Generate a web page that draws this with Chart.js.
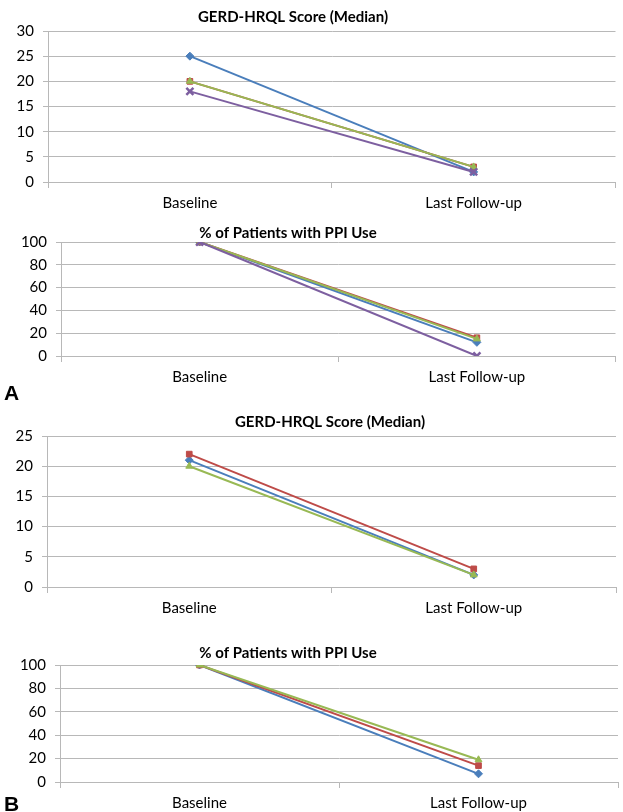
<!DOCTYPE html>
<html>
<head>
<meta charset="utf-8">
<script src="https://cdn.jsdelivr.net/npm/chart.js@4.4.0/dist/chart.umd.min.js"></script>
<style>
  body { margin: 0; background: #fff; width: 623px; height: 812px; position: relative; overflow: hidden; }
  .panel { position: absolute; left: 0; width: 623px; }
  .tag { position: absolute; left: 4px; font: bold 21px "Liberation Sans", Arial, sans-serif; line-height: 21px; color: #000; }
</style>
</head>
<body>
<div class="panel" style="top:0;height:215px"><canvas id="gerdA"></canvas></div>
<div class="panel" style="top:215px;height:180px"><canvas id="ppiA"></canvas></div>
<div class="panel" style="top:405px;height:215px"><canvas id="gerdB"></canvas></div>
<div class="panel" style="top:625px;height:187px"><canvas id="ppiB"></canvas></div>
<div class="tag" style="top:382px">A</div>
<div class="tag" style="top:793px">B</div>

<script>
// data
const categories = ['Baseline', 'Last Follow-up'];

// panel A - GERD-HRQL median
const gerdA_blue = [25, 2];
const gerdA_red = [20, 3];
const gerdA_green = [20, 3];
const gerdA_purple = [18, 2];

// panel A - % PPI use
const ppiA_blue = [100, 12];
const ppiA_red = [100, 16];
const ppiA_green = [100, 15];
const ppiA_purple = [100, 0];

// panel B - GERD-HRQL median
const gerdB_blue = [21, 2];
const gerdB_red = [22, 3];
const gerdB_green = [20, 2];

// panel B - % PPI use
const ppiB_blue = [100, 7];
const ppiB_red = [100, 14];
const ppiB_green = [100, 19];

const gerdTitle = 'GERD-HRQL Score (Median)';
const ppiTitle = '% of Patients with PPI Use';

const BLUE = '#4a7ebb', RED = '#be4b48', GREEN = '#98b954', PURPLE = '#7d5fa0';
const GRID = '#b8b8b8';
const FONT = 'Lato, "Open Sans", sans-serif';

// draws the small bold title where the original puts it
const panelTitle = {
  id: 'panelTitle',
  afterDraw(chart, args, opts) {
    const ctx = chart.ctx;
    ctx.save();
    ctx.font = 'bold 15px ' + FONT;
    ctx.fillStyle = '#000';
    ctx.textAlign = 'center';
    ctx.textBaseline = 'middle';
    ctx.fillText(opts.text, opts.x, opts.y);
    ctx.restore();
  }
};

function series(data, color, style, order) {
  return {
    data: data,
    borderColor: color,
    backgroundColor: color,
    borderWidth: 2,
    pointStyle: style,
    pointRadius: style === 'crossRot' ? 5 : 4,
    pointBorderWidth: style === 'crossRot' ? 2.5 : 1,
    pointBackgroundColor: color,
    pointBorderColor: color,
    tension: 0,
    order: order
  };
}

function makePanel(id, datasets, p) {
  new Chart(document.getElementById(id), {
    type: 'line',
    data: { labels: categories, datasets: datasets },
    plugins: [panelTitle],
    options: {
      responsive: true,
      maintainAspectRatio: false,
      animation: false,
      layout: { padding: { top: p.padTop, right: p.padRight, left: 0, bottom: 0 } },
      plugins: {
        legend: { display: false },
        tooltip: { enabled: false },
        panelTitle: { text: p.title, x: p.titleX, y: p.titleY }
      },
      scales: {
        x: {
          offset: true,
          grid: { offset: true, drawOnChartArea: false, drawTicks: true, tickLength: 6, color: GRID },
          border: { color: GRID },
          ticks: { color: '#000', font: { family: FONT, size: 15 }, padding: 6, maxRotation: 0 },
          afterFit(scale) { scale.height = p.xHeight; }
        },
        y: {
          min: 0, max: p.yMax,
          ticks: { stepSize: p.step, color: '#000', font: { family: FONT, size: 15 }, padding: 9 },
          grid: { color: GRID, tickLength: 5 },
          border: { color: GRID },
          afterFit(scale) { scale.width = p.axisLeft; }
        }
      }
    }
  });
}

makePanel('gerdA', [
  series(gerdA_blue, BLUE, 'rectRot', 3),
  series(gerdA_red, RED, 'rect', 2),
  series(gerdA_green, GREEN, 'triangle', 1),
  series(gerdA_purple, PURPLE, 'crossRot', 0)
], { title: gerdTitle, titleX: 293, titleY: 17, padTop: 31, padRight: 5, axisLeft: 48, xHeight: 33, yMax: 30, step: 5 });

makePanel('ppiA', [
  series(ppiA_blue, BLUE, 'rectRot', 3),
  series(ppiA_red, RED, 'rect', 2),
  series(ppiA_green, GREEN, 'triangle', 1),
  series(ppiA_purple, PURPLE, 'crossRot', 0)
], { title: ppiTitle, titleX: 288, titleY: 18, padTop: 27, padRight: 1, axisLeft: 61, xHeight: 39, yMax: 100, step: 20 });

makePanel('gerdB', [
  series(gerdB_blue, BLUE, 'rectRot', 2),
  series(gerdB_red, RED, 'rect', 1),
  series(gerdB_green, GREEN, 'triangle', 0)
], { title: gerdTitle, titleX: 330, titleY: 17, padTop: 31, padRight: 7, axisLeft: 47, xHeight: 33, yMax: 25, step: 5 });

makePanel('ppiB', [
  series(ppiB_blue, BLUE, 'rectRot', 2),
  series(ppiB_red, RED, 'rect', 1),
  series(ppiB_green, GREEN, 'triangle', 0)
], { title: ppiTitle, titleX: 288, titleY: 28, padTop: 40, padRight: 1, axisLeft: 60, xHeight: 30, yMax: 100, step: 20 });
</script>
</body>
</html>
